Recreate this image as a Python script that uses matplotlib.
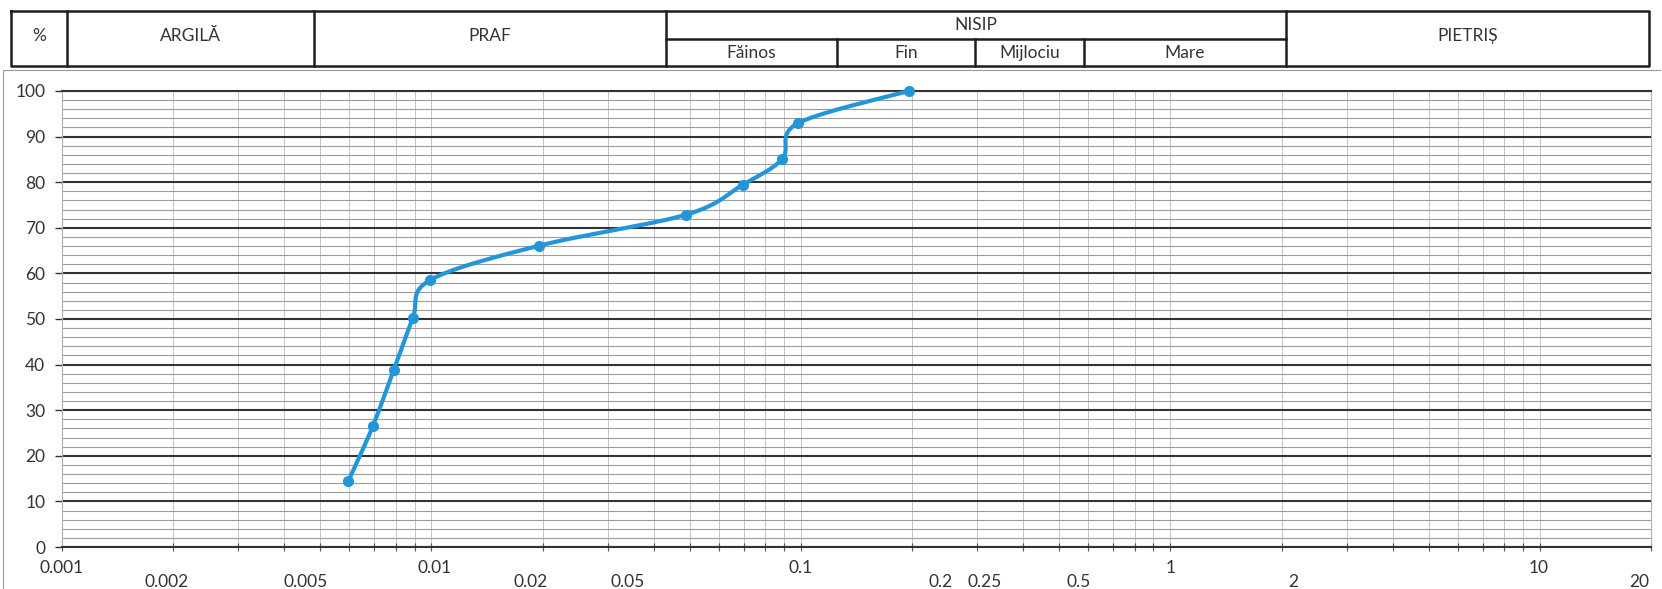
import matplotlib
matplotlib.use("Agg")
import matplotlib.pyplot as plt
from matplotlib.ticker import LogLocator, MultipleLocator, NullFormatter
import numpy as np

# grain size curve (mm, % passing)
diameter = [0.00596, 0.00694, 0.0079, 0.0089, 0.0099, 0.0196, 0.049, 0.0695, 0.089, 0.098, 0.196]
passing = [14.5, 26.5, 38.8, 50.2, 58.5, 66.1, 72.9, 79.4, 85.1, 92.9, 100.0]

y_ticks = [0, 10, 20, 30, 40, 50, 60, 70, 80, 90, 100]

# x labels are loose text boxes in the original, not tied to the ticks
x_labels = ["0.001", "0.002", "0.005", "0.01", "0.02", "0.05", "0.1",
            "0.2", "0.25", "0.5", "1", "2", "10", "20"]
x_label_pos = [0.001, 0.00192, 0.00456, 0.0102, 0.0186, 0.0339, 0.1,
               0.239, 0.314, 0.564, 1.0, 2.15, 9.9, 18.6]
x_label_low = [0, 1, 1, 0, 1, 1, 0, 1, 1, 1, 0, 1, 0, 1]

# header table
head_single = ["%", "ARGILĂ", "PRAF", "PIETRIȘ"]
head_group = "NISIP"
head_sub = ["Făinos", "Fin", "Mijlociu", "Mare"]

W, H = 1662, 589
LINE = "#2396d9"


def excel_smooth(ax, xs, ys, n=40):
    # catmull-rom style bezier in screen space, like excel's smoothed line
    pts = ax.transData.transform(np.column_stack([xs, ys]))
    p = np.vstack([pts[0], pts, pts[-1]])
    out = []
    t = np.linspace(0, 1, n)[:, None]
    for i in range(1, len(p) - 2):
        p0, p1, p2, p3 = p[i - 1], p[i], p[i + 1], p[i + 2]
        c1 = p1 + (p2 - p0) / 6
        c2 = p2 - (p3 - p1) / 6
        seg = (1 - t)**3 * p1 + 3 * (1 - t)**2 * t * c1 + 3 * (1 - t) * t**2 * c2 + t**3 * p2
        out.append(seg if i == 1 else seg[1:])
    curve = ax.transData.inverted().transform(np.vstack(out))
    return curve[:, 0], curve[:, 1]


def main():
    plt.rcParams['font.family'] = ['Lato', 'DejaVu Sans']
    fig = plt.figure(figsize=(W / 100, H / 100), dpi=100)

    left, right, top, bottom = 62, 1651, 91, 547
    ax = fig.add_axes([left / W, 1 - bottom / H, (right - left) / W, (bottom - top) / H])
    ax.set_xscale("log")
    ax.set_xlim(0.001, 20)
    ax.set_ylim(0, 100)

    ax.xaxis.set_major_locator(LogLocator(base=10))
    ax.xaxis.set_minor_locator(LogLocator(base=10, subs=np.arange(2, 10)))
    ax.xaxis.set_major_formatter(NullFormatter())
    ax.xaxis.set_minor_formatter(NullFormatter())
    ax.set_yticks(y_ticks)
    ax.yaxis.set_minor_locator(MultipleLocator(2))

    ax.grid(which="major", axis="y", color="#333333", linewidth=1.5)
    ax.grid(which="minor", axis="y", color="#9c9c9c", linewidth=0.8)
    ax.grid(which="both", axis="x", color="#c4c4c4", linewidth=0.7)
    ax.set_axisbelow(True)

    for s in ["left", "right"]:
        ax.spines[s].set_color("#b0b0b0")
        ax.spines[s].set_linewidth(0.8)
    ax.spines["top"].set_color("#333333")
    ax.spines["bottom"].set_color("#333333")
    ax.spines["bottom"].set_linewidth(1.5)
    ax.spines["top"].set_linewidth(1.5)

    ax.tick_params(axis="y", which="major", length=5, width=1, color="#333333",
                   labelsize=12.5, labelcolor="#333333", pad=7)
    ax.tick_params(axis="y", which="minor", length=0)
    ax.tick_params(axis="x", which="both", direction="inout", length=6, width=0.8,
                   color="#555555")

    sx, sy = excel_smooth(ax, diameter, passing)
    ax.plot(sx, sy, color=LINE, linewidth=3.0, solid_capstyle="round",
            solid_joinstyle="round", zorder=3, clip_on=False)
    ax.plot(diameter, passing, linestyle="none", marker="o", markersize=7,
            color=LINE, zorder=4, clip_on=False)

    xt = ax.get_xaxis_transform()
    for lab, pos, low in zip(x_labels, x_label_pos, x_label_low):
        ax.text(pos, -0.077 if low else -0.046, lab, transform=xt, ha="center", va="center",
                fontsize=12.5, color="#333333", clip_on=False)

    # overlay in pixel coords for header table and chart frame
    ov = fig.add_axes([0, 0, 1, 1], zorder=5)
    ov.set_xlim(0, W)
    ov.set_ylim(H, 0)
    ov.axis("off")
    ov.patch.set_alpha(0)

    ov.plot([3, 3, 1660], [H, 70, 70], color="#9a9a9a", linewidth=0.8)

    t_top, t_mid, t_bot = 11, 39, 66
    t_left, t_right = 11, 1649
    cols = [67, 314, 666, 1286]
    sub_cols = [837, 975, 1084]
    lw = 1.8
    k = "#1e1e1e"
    ov.plot([t_left, t_right, t_right, t_left, t_left], [t_top, t_top, t_bot, t_bot, t_top],
            color=k, linewidth=lw)
    for c in cols:
        ov.plot([c, c], [t_top, t_bot], color=k, linewidth=lw)
    for c in sub_cols:
        ov.plot([c, c], [t_mid, t_bot], color=k, linewidth=lw)
    ov.plot([cols[2], cols[3]], [t_mid, t_mid], color=k, linewidth=lw)

    single_x = [(t_left + cols[0]) / 2, (cols[0] + cols[1]) / 2,
                (cols[1] + cols[2]) / 2, (cols[3] + t_right) / 2]
    for lab, x in zip(head_single, single_x):
        ov.text(x, 36, lab, ha="center", va="center", fontsize=12.5, color="#333333")
    ov.text((cols[2] + cols[3]) / 2, 25, head_group, ha="center", va="center",
            fontsize=12.5, color="#333333")
    edges = [cols[2]] + sub_cols + [cols[3]]
    for i, lab in enumerate(head_sub):
        ov.text((edges[i] + edges[i + 1]) / 2, 53, lab, ha="center", va="center",
                fontsize=12.5, color="#333333")

    fig.savefig("out.png", dpi=100)


if __name__ == "__main__":
    main()
